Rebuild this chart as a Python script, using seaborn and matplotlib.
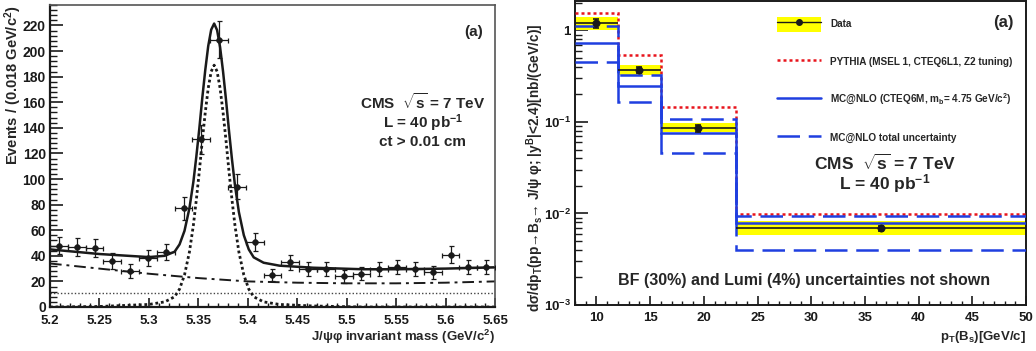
import matplotlib
matplotlib.use("Agg")
import matplotlib.pyplot as plt
import seaborn as sns
from matplotlib.patches import Rectangle
from matplotlib.lines import Line2D
from matplotlib.legend_handler import HandlerTuple
from matplotlib.ticker import MultipleLocator, FixedLocator, NullFormatter

# =======================
# Left panel: J/psi phi invariant mass
# =======================
mass_bins = [5.209, 5.227, 5.245, 5.263, 5.281, 5.299, 5.317, 5.335, 5.353, 5.371,
             5.389, 5.407, 5.425, 5.443, 5.461, 5.479, 5.497, 5.515, 5.533, 5.551,
             5.569, 5.587, 5.605, 5.623, 5.641]
events = [48, 47, 46, 36, 28, 38, 43, 77, 131, 209,
          94, 51, 25, 35, 30, 30, 24, 26, 30, 31,
          30, 27, 41, 31, 31]
events_err = [6.9, 6.9, 6.8, 6.0, 5.3, 6.2, 6.6, 8.8, 11.4, 14.5,
              9.7, 7.1, 5.0, 5.9, 5.5, 5.5, 4.9, 5.1, 5.5, 5.6,
              5.5, 5.2, 6.4, 5.6, 5.6]
half_bin = 0.009

# fit curves
curve_mass = [5.200, 5.250, 5.300, 5.316, 5.326, 5.331, 5.336, 5.341, 5.345, 5.348,
              5.351, 5.354, 5.357, 5.360, 5.363, 5.366, 5.369, 5.372, 5.375, 5.378,
              5.381, 5.384, 5.387, 5.391, 5.396, 5.401, 5.406, 5.416, 5.432, 5.466,
              5.516, 5.550, 5.600, 5.650]
fit_total = [45, 41.4, 39, 40, 43.2, 48.9, 59.5, 77.2, 97.9, 117.7,
             139.5, 163.3, 185.1, 203.9, 216.7, 221.5, 216.3, 203.1, 184, 161.8,
             137.7, 115.5, 95.4, 74.2, 56.1, 45, 38.8, 34.6, 32.3, 30.7,
             29.5, 29.5, 30, 31]
fit_signal = [0, 0.4, 2, 4, 8, 14, 25, 43, 64, 84,
              106, 130, 152, 171, 184, 189, 184, 171, 152, 130,
              106, 84, 64, 43, 25, 14, 8, 4, 2, 0.8,
              0, 0, 0, 0]
bkg_mass = [5.20, 5.25, 5.30, 5.35, 5.40, 5.45, 5.50, 5.55, 5.60, 5.65]
bkg_shape = [34, 30, 26, 22.6, 20, 19, 18.5, 18.5, 19, 20]
flat_mass = [5.20, 5.65]
flat_level = [11, 11]

mass_ticks = [5.2, 5.25, 5.3, 5.35, 5.4, 5.45, 5.5, 5.55, 5.6, 5.65]
mass_ticklabels = ["5.2", "5.25", "5.3", "5.35", "5.4", "5.45", "5.5", "5.55", "5.6", "5.65"]

# =======================
# Right panel: dsigma/dpT
# =======================
pt_edges = [8, 12, 16, 23, 50]
pt_centers = [10, 14, 19.5, 36.5]
xsec = [1.2, 0.374, 0.0855, 0.0069]
xsec_err = [0.14, 0.03, 0.007, 0.0004]
band_lo = [1.02, 0.324, 0.078, 0.0058]
band_hi = [1.40, 0.42, 0.097, 0.0082]
pythia = [1.57, 0.545, 0.146, 0.0099]
mcnlo = [0.735, 0.246, 0.075, 0.0078]
mcnlo_hi = [1.11, 0.33, 0.108, 0.0093]
mcnlo_lo = [0.456, 0.165, 0.0464, 0.00403]

pt_ticks = [10, 15, 20, 25, 30, 35, 40, 45, 50]
log_ticks = [1e-3, 1e-2, 1e-1, 1]
log_ticklabels = ["10$^{-3}$", "10$^{-2}$", "10$^{-1}$", "1"]

# =======================
# Style
# =======================
sns.set_theme(style="ticks")
plt.rcParams["font.family"] = ["Liberation Sans", "DejaVu Sans"]
plt.rcParams.update({
    "font.weight": "bold",
    "axes.labelweight": "bold",
    "mathtext.fontset": "custom",
    "mathtext.rm": "Liberation Sans:bold",
    "mathtext.it": "Liberation Sans:bold:italic",
    "mathtext.bf": "Liberation Sans:bold",
    "mathtext.default": "rm",
})

YELLOW = "#ffff00"
BLUE = "#1f3fe0"
RED = "#e8141c"

fig = plt.figure(figsize=(10.36, 3.51), dpi=100)
ax1 = fig.add_axes([50 / 1036, 44 / 351, 445 / 1036, 302 / 351])
ax2 = fig.add_axes([575 / 1036, 46 / 351, 451 / 1036, 304 / 351])

# =======================
# Left panel
# =======================
sns.lineplot(x=flat_mass, y=flat_level, ax=ax1, color="#444444", lw=1.0,
             linestyle=(0, (1, 1.5)), sort=False)
sns.lineplot(x=bkg_mass, y=bkg_shape, ax=ax1, color="k", lw=1.4,
             linestyle=(0, (6, 2.5, 1.5, 2.5)), sort=False)
sns.lineplot(x=curve_mass, y=fit_signal, ax=ax1, color="k", lw=2.0,
             linestyle=(0, (1, 1)), sort=False)
sns.lineplot(x=curve_mass, y=fit_total, ax=ax1, color="k", lw=1.8, sort=False)
ax1.errorbar(mass_bins, events, xerr=half_bin, yerr=events_err, fmt="none",
             ecolor="k", elinewidth=0.9, capsize=1.8, capthick=0.9, zorder=5)
sns.scatterplot(x=mass_bins, y=events, ax=ax1, color="k", s=18,
                edgecolor="k", zorder=6)

ax1.set_xlim(5.2, 5.65)
ax1.set_ylim(0, 236)
ax1.xaxis.set_major_locator(FixedLocator(mass_ticks))
ax1.set_xticklabels(mass_ticklabels)
ax1.xaxis.set_minor_locator(MultipleLocator(0.01))
ax1.yaxis.set_major_locator(MultipleLocator(20))
ax1.yaxis.set_minor_locator(MultipleLocator(4))
ax1.tick_params(axis="both", which="both", direction="in", colors="k",
                labelsize=10, top=False, right=False)
ax1.tick_params(axis="y", which="major", length=9.7, width=1.2, pad=3)
ax1.tick_params(axis="y", which="minor", length=4.9, width=1.0)
ax1.tick_params(axis="x", which="major", length=6.5, width=1.2, pad=5.6,
                labelsize=9.5)
ax1.tick_params(axis="x", which="minor", length=3.2, width=1.0)
for side in ["left", "bottom"]:
    ax1.spines[side].set_linewidth(1.6)
    ax1.spines[side].set_color("k")
for side in ["top", "right"]:
    ax1.spines[side].set_linewidth(1.2)
    ax1.spines[side].set_color("#555555")

ax1.text(-0.083, 1.0, "Events / (0.018 GeV/c$^2$)", transform=ax1.transAxes,
         rotation=90, ha="center", va="top", fontsize=10.5, fontweight="bold")
ax1.text(1.0, -0.1, "J/ψφ invariant mass (GeV/c$^2$)", transform=ax1.transAxes,
         ha="right", va="center", fontsize=9.5, fontweight="bold")
ax1.text(0.951, 0.911, "(a)", transform=ax1.transAxes, ha="center", va="center",
         fontsize=11, fontweight="bold")
ax1.text(0.838, 0.679, r"CMS  $\sqrt{s}$ = 7 TeV", transform=ax1.transAxes,
         ha="center", va="center", fontsize=11, fontweight="bold")
ax1.text(0.838, 0.609, "L = 40 pb$^{-1}$", transform=ax1.transAxes,
         ha="center", va="center", fontsize=11, fontweight="bold")
ax1.text(0.838, 0.546, "ct > 0.01 cm", transform=ax1.transAxes,
         ha="center", va="center", fontsize=11, fontweight="bold")

# =======================
# Right panel
# =======================
widths = [pt_edges[i + 1] - pt_edges[i] for i in range(len(pt_centers))]
heights = [band_hi[i] - band_lo[i] for i in range(len(pt_centers))]
ax2.bar(pt_edges[:-1], heights, width=widths, bottom=band_lo, align="edge",
        color=YELLOW, lw=0, zorder=1)
ax2.hlines(xsec, pt_edges[:-1], pt_edges[1:], color="k", lw=1.2, zorder=4)
ax2.stairs(pythia, pt_edges, baseline=None, color=RED, lw=1.8,
           linestyle=(0, (1.2, 1.2)), zorder=3)
ax2.stairs(mcnlo, pt_edges, baseline=None, color=BLUE, lw=1.8, zorder=3)
ax2.stairs(mcnlo_hi, pt_edges, baseline=None, color=BLUE, lw=1.8,
           linestyle=(0, (9, 3.5)), zorder=3)
ax2.stairs(mcnlo_lo, pt_edges, baseline=None, color=BLUE, lw=1.8,
           linestyle=(0, (9, 3.5)), zorder=3)
ax2.errorbar(pt_centers, xsec, yerr=xsec_err, fmt="none", ecolor="k",
             elinewidth=1.2, capsize=2, capthick=1.2, zorder=5)
sns.scatterplot(x=pt_centers, y=xsec, ax=ax2, color="k", s=28,
                edgecolor="k", zorder=6)

ax2.set_yscale("log")
ax2.set_xlim(8, 50)
ax2.set_ylim(1e-3, 2.1)
ax2.xaxis.set_major_locator(FixedLocator(pt_ticks))
ax2.set_xticklabels([str(t) for t in pt_ticks])
ax2.xaxis.set_minor_locator(MultipleLocator(1))
ax2.yaxis.set_major_locator(FixedLocator(log_ticks))
ax2.set_yticklabels(log_ticklabels)
ax2.yaxis.set_minor_locator(FixedLocator(
    [m * d for d in [1e-3, 1e-2, 1e-1, 1] for m in range(2, 10)]))
ax2.yaxis.set_minor_formatter(NullFormatter())
ax2.tick_params(axis="both", which="both", direction="in", colors="k",
                labelsize=9.5, top=False, right=False)
ax2.tick_params(axis="y", which="major", length=9.7, width=1.2, pad=3)
ax2.tick_params(axis="y", which="minor", length=4.9, width=1.0)
ax2.tick_params(axis="x", which="major", length=6.5, width=1.2, pad=5)
ax2.tick_params(axis="x", which="minor", length=3.2, width=1.0)
for side in ["left", "bottom", "top", "right"]:
    ax2.spines[side].set_linewidth(1.4)
    ax2.spines[side].set_color("k")

ax2.text(-0.0887, 0.45,
         "dσ/dp$_T$(pp→B$_s$→ J/ψ φ; |y$^B$|<2.4)[nb/(GeV/c)]",
         transform=ax2.transAxes, rotation=90, ha="center", va="center",
         fontsize=9.8, fontweight="bold")
ax2.text(1.0, -0.105, "p$_T$(B$_s$)[GeV/c]", transform=ax2.transAxes,
         ha="right", va="center", fontsize=9.5, fontweight="bold")
ax2.text(0.949, 0.928, "(a)", transform=ax2.transAxes, ha="center", va="center",
         fontsize=12, fontweight="bold")
ax2.text(0.687, 0.467, r"CMS  $\sqrt{s}$ = 7 TeV", transform=ax2.transAxes,
         ha="center", va="center", fontsize=12.5, fontweight="bold")
ax2.text(0.687, 0.401, "L = 40 pb$^{-1}$", transform=ax2.transAxes,
         ha="center", va="center", fontsize=12.5, fontweight="bold")
ax2.text(0.509, 0.082, "BF (30%) and Lumi (4%) uncertainties not shown",
         transform=ax2.transAxes, ha="center", va="center",
         fontsize=11.5, fontweight="bold")

# legend
data_handle = (Rectangle((0, 0), 1, 1, facecolor=YELLOW, edgecolor="none"),
               Line2D([], [], color="k", lw=1.0, marker="o", ms=4))
pythia_handle = Line2D([], [], color=RED, lw=1.8, linestyle=(0, (1.2, 1.2)))
mcnlo_handle = Line2D([], [], color=BLUE, lw=1.8)
unc_handle = Line2D([], [], color=BLUE, lw=1.8, linestyle=(0, (9, 3.5)))
ax2.legend([data_handle, pythia_handle, mcnlo_handle, unc_handle],
           ["Data",
            "PYTHIA (MSEL 1, CTEQ6L1, Z2 tuning)",
            "MC@NLO (CTEQ6M, m$_b$= 4.75 GeV/c$^2$)",
            "MC@NLO total uncertainty"],
           handler_map={tuple: HandlerTuple(ndivide=1)},
           loc="upper left", bbox_to_anchor=(0.448, 0.948), frameon=False,
           borderpad=0, borderaxespad=0, handlelength=4.4, handleheight=1.9,
           handletextpad=0.9, labelspacing=2.3,
           prop={"size": 7.2, "weight": "bold"})

plt.savefig("out.png", dpi=100)
